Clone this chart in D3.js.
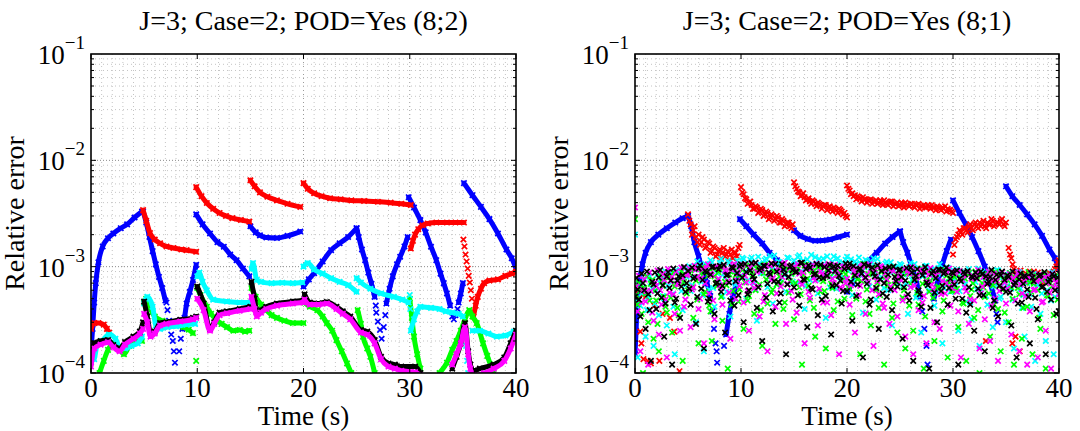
<!DOCTYPE html>
<html><head><meta charset="utf-8">
<script src="https://cdn.jsdelivr.net/npm/d3@7"></script>
<style>body{margin:0;background:#fff}</style>
</head><body><svg id="c" width="1080" height="431"></svg>
<script>
// ---------- DATA (time in s; values in units noted) ----------
const titles = ["J=3; Case=2; POD=Yes (8;2)", "J=3; Case=2; POD=Yes (8;1)"];
const xTicks = [0, 10, 20, 30, 40];
const yTicks = [1e-4, 1e-3, 1e-2, 1e-1];
const yTickExp = ["−4", "−3", "−2", "−1"];
const xLabel = "Time (s)", yLabel = "Relative error";

// LEFT panel, values x1e-4, [t, v]
const L_blue = [
 {line:[[0,1.6],[0.15,2.6],[0.3,4.6],[0.45,7],[0.7,11],[1.1,15.5],[1.6,18.5],[2.1,20.5],[2.8,23],[3.4,25],[4.1,29],[4.8,33]]},
 {line:[[4.9,33],[5.2,26],[5.5,19],[5.8,14],[6.1,10.5],[6.4,8],[6.7,6.3],[7.0,4.8]]},
 {pts:[[7.1,4.6],[7.2,3.9],[7.35,3.1],[7.55,2.3],[7.7,2.0],[7.8,1.6],[7.9,1.25],[8.3,1.6],[8.45,2.1]]},
 {line:[[8.6,2.6],[8.8,3.3],[9.0,4.5],[9.3,5.8],[9.6,7.5],[9.9,10.4]]},
 {line:[[9.9,31],[10.5,25],[11.2,20.5],[11.9,17],[12.5,15.4],[13.1,13],[13.7,11.5],[14.3,9.6],[14.9,8.1]]},
 {line:[[15,24],[15.5,21],[15.9,19.7],[16.5,18.8],[17.5,18.6],[18.5,19.5],[19.7,21.4]]},
 {line:[[20,6.5],[20.5,7.6],[21,8.7],[21.8,11.2],[22.6,14.3],[23.4,16.6],[24.2,19],[25,23]]},
 {line:[[25,23],[25.2,19],[25.5,14.5],[25.8,11.5],[26.1,8.8],[26.4,6.9],[26.7,5.2]]},
 {pts:[[26.8,4.3],[26.85,3.7],[27.0,3.04],[27.2,2.54],[27.35,2.1],[27.55,2.7],[27.7,3.5]]},
 {line:[[27.8,4.5],[28.1,6.2],[28.4,8.1],[28.8,10.5],[29.1,12.4],[29.5,15.5],[29.8,19]]},
 {line:[[29.9,45],[30.4,36],[31,27.4],[31.5,21],[32,15.4],[32.5,11.5],[32.9,8.6],[33.2,7],[33.5,5.6],[33.8,4.3]]},
 {pts:[[34.0,3.4],[34.15,3.2],[34.3,3.5],[34.5,4.0]]},
 {line:[[34.6,4.6],[34.8,5.6],[35,7]]},
 {line:[[35.1,61],[35.9,47],[36.7,36.5],[37.5,28],[38.3,20.5],[39.1,14.5],[39.6,12],[40,9.6]]}
];
const L_red = [
 {line:[[0,2.6],[0.3,2.95],[0.7,2.95],[1.2,2.85],[1.5,2.6],[1.7,2.4]]},
 {line:[[4.9,34],[5.2,27],[5.55,20.7],[6,18],[6.5,16.6],[7.1,15.5],[7.75,15],[8.5,14.5],[9,14.3],[9.9,13.8]]},
 {line:[[9.9,56],[10.4,46],[10.9,39.7],[11.5,35],[12.1,32],[12.7,30],[13.3,28.6],[14.1,27.5],[14.9,26.5]]},
 {line:[[15,65],[15.4,57],[15.9,50],[16.6,45.5],[17.5,42],[18.5,39],[19.7,36.5]]},
 {line:[[20,61],[20.4,54],[21,49],[21.7,46],[22.5,44],[23.5,43],[24.5,42],[25.7,41.5],[27,40.8],[28.2,40],[29.2,39],[30.1,38]]},
 {line:[[30.1,14.8],[30.3,17.5],[30.5,20],[30.8,22.5],[31.2,24.5],[31.7,25.5],[32.5,26],[33.5,26],[34.3,26],[35.1,26]]},
 {pts:[[35.05,18],[35.15,15.5],[35.25,13],[35.35,11.2],[35.45,9.6],[35.55,8.2],[35.65,7.1],[35.75,6],[35.85,5]]},
 {line:[[36,3.4],[36.2,4.3],[36.4,5.2],[36.7,6.2],[37,7],[37.5,7.4],[38.3,7.6],[39,8.2],[39.6,8.6],[40,9.0]]}
];
const L_cyan = [
 {line:[[0,1.3],[0.3,1.35],[0.6,1.9],[1.0,2.0],[1.7,2.3],[2.3,2.1],[2.7,1.75],[3.2,1.7],[3.8,1.8],[4.4,1.9],[4.8,2.2]]},
 {line:[[5,4.5],[5.3,5.2],[5.8,4.2],[6.1,2.8],[6.5,2.6],[7.2,2.7],[8,2.75],[9,2.85],[9.8,2.9]]},
 {line:[[10,8.1],[10.2,8.8],[10.5,7.2],[10.9,6.0],[11.5,4.9],[12.8,4.7],[14,4.6],[15,4.6]]},
 {line:[[15.1,9.5],[15.25,10.8],[15.6,7.5],[16,7.2],[17,7.0],[18,7.05],[19,7.0],[19.9,7.1]]},
 {line:[[20,10],[20.4,10.8],[21,9.4],[21.8,8.6],[22.6,7.8],[23.4,7.2],[24.2,6.7],[25,5.8]]},
 {line:[[25,7.8],[25.4,7.1],[26.3,6.2],[27.3,5.6],[28.5,5.2],[29.3,4.9],[29.9,4.6]]},
 {pts:[[30,5.4],[30.05,4.0]]},
 {line:[[30.1,2.5],[30.4,3.2],[30.7,3.8],[31,4.2],[32,4.1],[32.8,4.0],[33.4,3.8],[34,3.7],[34.6,3.6],[35,3.4]]},
 {pts:[[35.2,2.4],[35.3,1.8],[35.4,1.3],[35.5,1.0]]},
 {line:[[35.9,2.5],[36.6,2.5],[37.4,2.35],[38.2,2.2],[39,2.25],[39.8,2.45],[40,2.5]]}
];
const L_green = [
 {line:[[0.8,1.0],[1.2,1.3],[1.6,1.65],[2.2,1.9],[2.6,1.75],[3.1,1.5],[3.6,1.8],[4,2.0],[4.8,2.0]]},
 {line:[[5,4.6],[5.2,5.0],[5.5,4.2],[6,3.4],[6.7,3.1],[7.5,2.95],[8.1,2.85],[8.7,2.7],[9.2,2.55],[9.6,2.37]]},
 {pts:[[9.9,1.3]]},
 {line:[[10,6.3],[10.3,5.4],[10.9,4.2],[11.3,3.6],[11.8,3.17],[12.3,2.9],[12.8,2.7],[13.4,2.5],[14,2.54],[14.5,2.45],[14.9,2.5]]},
 {line:[[15.1,6.3],[15.5,5.2],[16,4.4],[16.5,3.9],[17,3.5],[17.5,3.3],[18.2,3.1],[19,2.95],[20,2.95]]},
 {line:[[20.1,4.6],[20.6,4.2],[21.3,3.9],[21.8,3.4],[22.2,2.95],[22.7,2.5],[23.1,2.04],[23.6,1.6],[24.1,1.23],[24.5,1.0]]},
 {line:[[25.1,3.9],[25.4,2.9],[25.6,2.2],[26,1.7],[26.3,1.42],[26.7,1.0]]},
 {line:[[30,5.0],[30.2,3.3],[30.4,2.2],[30.7,1.5],[31,1.1]]},
 {line:[[32.8,1.0],[33.5,1.25],[34,1.65],[34.4,2.0],[34.8,2.5],[35.2,3.2],[35.6,3.9],[35.9,3.4],[36.3,2.95],[36.9,1.9],[37.3,1.45],[37.6,1.2],[37.9,1.0]]}
];
const L_black = [
 {line:[[0,1.4],[0.3,1.9],[0.9,2.0],[1.6,2.04],[2.1,1.83],[2.7,1.7],[3.2,1.95],[4.0,2.2],[4.6,2.45],[4.9,3.0]]},
 {line:[[5,4.7],[5.3,3.4],[5.6,2.4],[6,2.45],[6.5,2.95],[7.1,3.0],[8.4,3.17],[9.6,3.3],[9.9,3.4]]},
 {line:[[10,6.5],[10.6,4.5],[11.2,2.6],[11.6,3.0],[12.1,3.7],[12.8,3.8],[14,4.0],[15,4.2]]},
 {line:[[15.1,7.2],[15.4,5.0],[15.6,3.7],[16,3.9],[16.5,4.2],[17.5,4.5],[19,4.7],[20,4.8]]},
 {line:[[20.1,5.5],[20.6,4.6],[21.4,4.5],[22.2,4.65],[23.1,4.2],[23.7,3.8],[24.4,3.4],[25.4,2.54],[26,2.45],[26.7,2.04],[27.3,1.42],[28,1.23],[28.6,1.2],[29.2,1.15],[30.5,1.15],[31,1.0]]},
 {line:[[34,1.1],[34.4,1.42],[34.8,1.9],[35.2,2.95],[35.5,1.6],[35.7,1.2],[36,1.05],[36.6,1.1],[37.9,1.2],[38.9,1.4],[39.5,1.9],[40,2.5]]}
];
const L_magenta = [
 {line:[[0,1.15],[0.3,1.7],[0.9,1.85],[1.6,1.95],[2.1,1.75],[2.7,1.6],[3.2,1.85],[4,2.1],[4.6,2.35],[4.9,2.6]]},
 {line:[[5,3.6],[5.3,3.0],[5.6,2.2],[6,2.35],[6.5,2.8],[7.1,2.9],[8.4,3.05],[9.6,3.2],[9.9,3.3]]},
 {line:[[10,5.0],[10.6,3.9],[11.2,2.5],[11.6,2.9],[12.1,3.5],[12.8,3.65],[14,3.85],[15,4.0]]},
 {line:[[15.1,5.2],[15.4,4.0],[15.6,3.4],[16,3.7],[16.5,4.0],[17.5,4.3],[19,4.5],[20,4.6]]},
 {line:[[20.1,4.9],[20.6,4.4],[21.4,4.4],[22.2,4.5],[23.1,4.0],[23.7,3.6],[24.4,3.2],[25.4,2.4],[26,2.3],[26.7,1.9],[27.3,1.35],[28,1.15],[28.6,1.1],[29.2,1.05],[30.5,1.02],[31,0.95]]},
 {line:[[34,1.2],[34.4,1.5],[34.8,1.9],[35.2,2.7],[35.5,1.5],[35.7,1.1],[36,0.95],[37,1.0],[37.9,1.1],[38.9,1.3],[39.5,1.7],[40,2.3]]}
];

// RIGHT panel
const R_blue = [ // x1e-4
 {line:[[0,1.5],[0.1,2.5],[0.2,4.5],[0.4,7],[0.7,10.5],[1,13.5],[1.5,17],[2.2,20],[3,23],[3.8,26],[4.5,28.5],[5,30]]},
 {line:[[5,30],[5.3,24],[5.6,17],[6,12.5],[6.4,9],[6.8,7],[7.1,5.3]]},
 {pts:[[7.3,3.8],[7.45,2.6],[7.6,1.9],[7.7,1.6],[7.75,1.25],[8.4,1.8]]},
 {line:[[8.6,2.3],[8.9,3.6],[9.2,5],[9.5,6.5],[9.8,8]]},
 {line:[[9.9,28],[10.5,24],[11.2,20],[12,16.5],[12.7,13.5],[13.4,11.5],[14,9.5]]},
 {line:[[15,22],[15.6,19.5],[16.3,18.2],[17,17.5],[17.7,17.6],[18.4,18],[19.2,19],[20,20]]},
 {line:[[20,5.8],[20.5,7],[21.2,9],[22,11.2],[22.8,13.5],[23.6,16.5],[24.3,19],[25,21.5]]},
 {line:[[25,21.5],[25.3,17],[25.7,13.5],[26.1,10],[26.5,7.5],[26.9,5.2]]},
 {pts:[[27.1,3.8],[27.3,2.6],[27.5,1.8],[27.6,1.2]]},
 {line:[[28.2,5],[28.6,7.5],[29,10.5],[29.4,14],[29.8,18]]},
 {line:[[30,42],[30.6,32],[31.2,25],[31.8,19],[32.4,14],[33,10],[33.5,7],[34,4.8]]},
 {pts:[[34.1,3.6],[34.2,3.0]]},
 {line:[[35,57],[35.6,46],[36.3,38],[37,31],[37.7,25],[38.4,19.5],[39.1,14.5],[39.6,12],[40,9.5]]}
];
const R_red_segments = [ // start time, step 0.25 s, values x1e-3
 {t0:5, v:[3.1,2.5,2.2,1.9,2.0,1.7,1.8,1.55,1.65,1.4,1.5,1.3,1.45,1.35,1.25,1.4,1.3,1.2,1.35,1.5]},
 {t0:10, v:[5.6,4.8,4.3,4.0,3.8,3.5,3.6,3.3,3.4,3.1,3.2,2.9,3.0,2.8,2.9,2.6,2.7,2.5,2.6,2.3]},
 {t0:15, v:[6.2,5.4,5.0,4.7,4.5,4.3,4.1,4.2,3.9,4.0,3.8,3.7,3.8,3.6,3.5,3.6,3.4,3.5,3.3,3.2,2.9]},
 {t0:20, v:[5.8,5.2,4.9,4.7,4.6,4.4,4.5,4.3,4.2,4.3,4.1,4.2,4.0,4.1,4.2,3.9,4.0,4.1,3.9,4.0,3.8,3.9,4.0,3.8,3.9,3.7,3.8,3.9,3.7,3.8,3.6,3.7,3.8,3.6,3.7,3.5,3.6,3.7,3.5,3.4,3.2]},
 {t0:30, v:[1.3,1.8,2.0,2.1,2.3,2.2,2.4,2.3,2.5,2.4,2.6,2.5,2.4,2.6,2.5,2.7,2.5,2.6,2.7,2.5,2.6]},
 {t0:35.25, v:[1.5,1.2,0.95,0.85,0.9,0.8,0.85,0.78,0.9,0.82,0.75,0.88,0.8,0.72,0.85,0.78,0.8,0.9,1.0,1.15]}
];
const R_red_segments2 = [ // second sample row, start time, step 0.25 s, values x1e-3
 {t0:5.125, v:[2.7,2.0,2.4,1.7,1.6,1.9,1.5,1.7,1.35,1.55,1.25,1.4,1.2,1.5,1.3,1.15,1.45,1.35,1.25,1.6]},
 {t0:10.125, v:[5.0,4.4,3.9,4.1,3.5,3.7,3.2,3.5,3.0,3.3,2.8,3.1,2.7,3.0,2.6,2.8,2.4,2.6,2.4,2.5]},
 {t0:15.125, v:[5.7,5.1,4.6,4.9,4.2,4.4,3.9,4.1,3.7,3.9,3.5,3.8,3.4,3.7,3.3,3.5,3.2,3.4,3.1,3.0]},
 {t0:20.125, v:[5.4,4.8,4.6,4.3,4.5,4.1,4.3,4.0,4.2,3.9,4.1,3.9,4.2,3.8,4.0,3.8,4.1,3.7,3.9,3.7,4.0,3.6,3.8,3.7,3.9,3.6,3.8,3.5,3.7,3.6,3.8,3.5,3.6,3.4,3.6,3.4,3.5,3.3,3.4,3.3]},
 {t0:30.125, v:[1.6,1.9,2.2,2.0,2.3,2.1,2.5,2.2,2.6,2.3,2.4,2.7,2.3,2.5,2.8,2.4,2.6,2.5,2.8,2.4]},
 {t0:35.375, v:[1.3,1.05,0.9,0.8,0.92,0.76,0.86,0.8,0.74,0.9,0.78,0.83,0.7,0.82,0.76,0.86,0.82,0.95,1.1]}
];
const R_red_low = [[0,5.6],[0.25,4.6],[0.4,6.2],[0.5,2.45],[0.6,1.9],[0.7,5.4],[0.8,1.35],[1.0,5.2],[1.2,1.3],[1.5,1.23],[1.8,4.3],[2.3,1.3],[2.6,3.6],[3.3,3.3],[3.7,2.45],[4.2,1.04],[33.1,2.0],[35.6,1.9],[35.9,2.2],[36.3,1.6]]; // x1e-4
const cloudStep = 0.25; // s, cloud values below x1e-4
const R_black = [5.2,6.1,3.4,7.0,2.6,5.5,1.3,6.8,4.0,7.9,5.1,2.2,8.1,6.3,1.2,4.6,7.4,3.3,8.3,5.8,
 9.1,4.4,7.7,2.9,9.6,6.2,1.7,8.8,5.0,9.9,3.6,7.1,10.2,6.6,2.4,8.4,4.8,9.7,7.3,5.4,
 10.5,3.0,8.9,6.0,10.8,7.6,4.1,9.3,2.0,10.1,6.9,8.5,3.8,10.6,7.2,5.6,9.4,1.5,8.0,10.3,
 6.4,9.0,4.3,10.9,7.5,2.7,9.8,6.1,8.6,3.5,10.4,7.8,5.3,9.2,2.3,10.0,6.7,8.2,4.5,9.5,
 5.9,10.7,3.1,8.3,6.8,9.6,1.4,7.9,10.2,4.9,8.7,6.3,2.6,9.1,7.0,5.2,9.9,3.9,8.0,6.5,
 9.4,2.1,7.4,5.5,9.8,1.3,8.2,6.0,4.2,9.0,7.1,1.1,8.6,5.7,3.0,9.3,6.6,8.9,4.4,7.7,
 8.7,5.0,1.2,7.3,8.9,3.7,6.4,8.1,2.5,7.8,5.4,8.5,1.6,6.9,8.0,4.1,7.5,3.4,8.3,6.2,
 5.8,8.0,2.8,6.7,1.4,7.6,4.6,8.2,6.1,1.9,7.9,5.1,3.2,8.4,6.5,1.5,7.2,4.9,8.1,3.6,3.8];
const R_black2 = [7.8,4.9,8.6,6.0,9.0,3.9,7.2,8.8,5.6,9.3,6.7,4.5,8.9,7.4,9.6,5.0,8.1,6.5,9.9,7.0,
 6.2,9.8,8.0,5.2,10.3,7.5,9.1,4.7,8.4,10.0,6.9,9.4,5.8,10.4,8.3,7.1,9.9,4.3,8.7,10.1,
 7.9,10.6,5.5,9.2,8.1,10.9,6.4,9.7,10.2,5.1,8.8,10.7,7.3,9.0,4.6,10.5,8.5,6.8,10.0,9.3,
 8.9,5.4,10.8,7.6,9.5,10.3,6.3,8.4,10.6,7.9,4.9,9.9,8.2,10.4,6.6,9.1,10.2,7.4,5.9,10.7,
 9.7,7.2,10.1,5.3,9.4,8.6,10.5,6.9,4.4,9.8,8.1,10.3,7.6,5.6,9.6,8.4,6.1,10.0,7.3,9.2,
 8.0,6.4,9.7,4.8,8.8,7.5,9.5,5.5,8.3,9.9,6.7,4.1,9.1,7.8,9.4,5.9,8.6,9.8,6.3,8.9,
 6.8,9.2,7.7,5.0,8.5,9.1,4.4,7.9,8.8,6.2,9.0,5.4,8.1,7.2,9.3,4.8,8.4,6.6,9.0,7.5,
 8.3,5.7,9.0,7.1,4.5,8.6,6.9,8.0,5.2,8.7,7.3,4.0,8.2,6.4,8.9,5.8,7.6,8.5,6.0,7.9,8.4];
const R_green = [28,4.4,6.2,1.0,5.6,3.0,6.9,2.1,4.8,1.6,7.3,5.2,3.7,8.0,2.4,6.5,4.1,7.7,1.3,8.4,
 6.0,9.2,3.3,7.4,1.9,8.7,5.5,9.5,4.3,2.0,8.1,6.6,9.8,3.1,7.2,1.1,9.0,5.9,8.3,4.7,
 7.9,2.6,10.1,5.3,8.8,3.6,9.6,6.8,1.8,10.4,4.5,8.2,6.1,2.9,9.7,7.0,4.0,10.0,5.7,8.6,
 3.2,9.3,6.4,1.2,10.2,7.7,4.8,8.9,2.2,9.9,5.8,7.3,1.7,10.5,6.9,3.9,8.4,0.9,9.4,5.0,
 10.1,6.2,3.5,9.0,7.6,1.5,10.6,4.7,8.5,2.8,9.7,6.0,4.1,8.9,1.2,7.4,9.5,3.3,6.8,2.4,
 8.8,5.1,1.7,9.2,6.9,2.5,8.1,4.4,9.6,1.1,7.5,5.8,8.7,2.0,6.3,9.0,3.8,7.1,1.4,8.3,
 5.9,8.6,2.7,7.8,4.5,1.3,8.8,6.1,3.3,8.2,1.0,7.0,5.2,8.5,2.2,6.7,8.9,4.0,1.6,7.6,
 8.1,3.0,6.4,1.2,7.9,5.5,2.1,8.3,4.2,7.1,1.5,8.0,6.0,2.6,7.4,1.1,5.3,8.2,3.5,7.7,6.8];
const R_green2 = [5.4,7.0,3.6,6.3,8.1,4.8,7.5,5.9,2.9,8.4,6.6,4.2,7.9,5.1,8.8,6.9,3.5,9.0,7.2,5.6,
 8.7,6.4,9.5,4.9,7.8,9.9,5.8,8.2,3.8,9.6,7.0,8.9,5.2,10.0,6.7,8.5,4.4,9.7,7.4,6.1,
 9.3,7.1,4.8,10.2,8.4,6.0,9.8,3.9,8.7,7.6,10.3,5.7,9.0,6.8,8.1,10.0,4.6,9.5,7.3,8.9,
 7.0,9.6,5.5,8.3,10.4,6.6,9.2,4.1,8.6,10.1,7.7,5.9,9.4,8.0,6.3,10.2,4.7,9.0,7.5,8.5,
 6.4,9.9,8.2,5.0,9.1,7.3,10.0,6.1,3.6,8.8,9.6,7.0,5.4,9.3,8.1,6.7,9.8,4.5,8.4,7.6,
 9.2,6.0,8.6,4.3,9.4,7.8,5.7,8.9,6.9,3.4,9.0,7.4,5.1,8.7,6.5,9.3,4.8,8.2,7.1,5.9,
 8.0,6.2,9.1,4.6,7.7,8.5,5.3,7.0,9.0,3.9,8.3,6.4,7.9,5.6,8.8,4.4,7.2,8.6,6.1,3.7,
 7.5,8.7,5.0,7.8,6.3,8.4,4.1,7.1,8.9,5.8,6.9,8.2,3.3,7.6,8.5,5.4,7.0,6.6,8.1,4.9,7.4];
const R_magenta = [36,3.8,1.6,6.0,4.7,1.2,5.9,3.1,6.6,2.3,4.4,7.5,1.4,5.7,8.0,3.6,6.9,2.5,7.8,4.9,
 8.5,2.7,6.4,9.4,4.0,7.8,1.9,9.7,5.6,8.3,3.2,10.0,6.7,4.4,9.2,7.3,2.1,10.3,5.0,8.7,
 9.9,4.6,7.1,2.5,10.7,6.3,8.9,3.4,9.6,5.4,1.6,10.2,7.8,4.2,9.1,6.5,10.6,2.9,8.0,5.9,
 10.0,3.7,8.6,6.8,1.9,9.7,5.1,10.4,7.4,2.8,9.0,4.6,8.2,10.6,3.5,7.0,9.3,1.5,6.2,10.1,
 7.7,4.4,9.8,2.4,8.4,6.6,10.3,3.6,7.2,9.5,1.8,8.0,5.5,9.9,4.1,7.6,2.9,9.3,6.0,3.4,
 8.6,4.8,2.2,9.1,6.4,1.5,7.9,3.9,9.4,5.3,1.9,8.4,6.8,3.0,9.0,2.6,7.3,5.6,8.8,4.3,
 7.0,9.0,3.8,1.4,8.3,5.9,2.9,7.7,4.8,8.6,1.7,6.5,3.2,8.0,2.0,7.4,5.0,1.3,8.4,6.3,
 4.5,7.8,2.3,6.9,8.2,1.6,5.6,7.3,1.2,3.8,8.0,6.1,1.4,7.5,4.7,2.5,8.3,1.1,6.4,7.1,5.5];
const R_magenta2 = [6.5,8.2,4.6,7.6,5.9,8.8,3.7,7.1,9.2,6.0,8.5,4.9,9.5,7.3,5.5,9.0,6.8,9.8,4.2,8.3,
 9.6,6.1,10.2,8.0,5.0,9.4,7.0,10.5,8.6,4.8,9.9,7.7,6.3,10.1,8.9,5.7,9.3,10.6,7.4,6.6,
 10.4,8.2,5.9,9.8,7.1,10.8,6.5,9.1,4.7,10.2,8.7,7.5,10.6,5.6,9.4,8.0,10.9,6.9,9.7,4.9,
 9.0,10.5,7.2,8.8,10.1,5.8,9.6,7.9,10.7,6.2,8.5,10.3,4.6,9.2,7.7,10.4,8.3,6.4,9.9,7.0,
 10.2,6.7,8.9,9.7,5.4,10.0,7.8,8.4,10.5,6.0,9.3,7.3,10.1,4.5,8.7,9.6,6.5,9.1,7.6,8.2,
 7.4,9.5,5.2,8.6,9.9,6.6,8.0,9.2,4.6,8.8,7.2,9.7,6.1,8.3,9.4,5.5,8.9,7.0,9.6,6.3,
 8.7,5.8,9.1,7.5,6.4,8.9,4.9,8.2,7.8,9.3,5.6,8.0,6.9,9.0,4.3,8.6,7.4,5.9,8.8,7.1,
 6.2,8.5,7.7,4.8,8.9,6.8,8.1,5.3,7.9,8.7,6.0,7.3,8.4,4.6,8.0,7.0,5.7,8.6,7.6,6.4,7.2];
const R_cyan = [20,1.4,4.3,6.4,2.2,5.2,7.1,1.8,6.0,3.5,7.6,4.6,2.8,8.2,5.5,1.5,7.3,8.6,3.9,6.7,
 9.3,5.9,8.0,3.0,10.4,7.2,1.6,9.8,6.1,11.0,4.2,8.7,10.8,5.3,7.9,11.3,3.4,9.1,6.8,10.5,
 8.2,11.8,5.0,9.6,12.2,7.0,3.1,10.7,8.8,11.5,6.4,12.6,4.5,9.4,11.1,7.6,10.2,5.8,12.0,8.5,
 11.4,6.9,12.8,9.0,4.0,11.7,7.5,10.6,12.3,5.6,9.8,11.9,3.3,10.3,8.1,12.5,6.2,11.0,9.3,7.8,
 12.4,9.5,5.4,11.2,8.4,10.8,3.7,11.6,7.1,9.9,12.0,4.9,10.4,8.0,6.3,11.1,9.2,2.8,10.0,7.4,
 10.6,6.5,9.0,3.6,10.9,7.7,5.1,9.6,2.4,8.3,10.2,6.0,9.4,4.3,8.7,10.5,1.9,7.2,9.8,5.8,
 9.3,6.6,2.5,8.9,7.4,4.7,9.5,3.2,8.0,6.1,1.8,9.0,7.3,4.4,8.6,2.7,6.8,9.2,5.2,7.9,
 3.0,8.4,6.2,1.7,7.6,8.9,4.1,2.2,7.0,5.5,8.3,1.3,6.7,3.6,8.0,2.0,7.4,4.8,1.5,8.2,6.0];
const R_cyan2 = [4.8,6.9,5.6,7.7,3.9,8.1,6.2,4.5,8.4,7.0,5.3,9.0,6.6,8.8,4.2,9.3,7.4,5.9,9.6,8.0,
 10.1,6.7,9.4,11.2,7.8,5.4,10.6,8.9,11.5,6.3,9.9,7.5,11.8,8.6,5.8,10.9,9.7,7.1,11.4,10.0,
 12.1,9.0,7.4,11.6,10.3,6.1,12.4,8.7,10.8,11.9,7.9,9.5,12.7,6.8,11.0,10.5,8.3,12.2,9.8,7.2,
 10.7,12.3,8.8,11.4,6.6,10.1,12.9,9.2,7.6,11.8,10.4,8.5,12.5,6.4,11.1,9.6,12.0,7.9,10.8,11.6,
 9.1,11.7,7.3,10.6,12.2,8.2,9.9,11.3,6.5,10.9,8.6,11.8,7.7,9.4,10.7,6.0,11.0,8.9,9.8,7.0,
 10.3,8.4,6.8,9.9,7.5,10.6,5.4,9.0,8.1,10.1,6.7,9.5,7.9,5.8,9.7,8.5,6.3,9.2,7.1,8.8,
 7.6,9.4,5.9,8.6,6.8,9.1,4.6,8.3,7.2,9.6,6.1,8.0,5.3,8.9,7.4,6.5,9.3,5.0,8.2,7.0,
 6.6,8.7,4.9,7.5,8.8,6.2,5.4,8.1,7.3,4.2,8.5,6.9,7.8,5.6,8.4,6.0,7.7,8.9,5.2,7.1,6.7];

// ---------- FONT (pick an installed Times-like serif) ----------
function pickFont(cands){
  const ctx = document.createElement("canvas").getContext("2d");
  const s = "J=3; Case=2; POD=Yes Relative error 0123456789 mmmwwwiii";
  const w = f => { ctx.font = "40px " + f; return ctx.measureText(s).width; };
  const wm = w("monospace"), ws = w("sans-serif");
  for (const c of cands) {
    const q = "'" + c + "'";
    if (w(q + ", monospace") !== wm && w(q + ", sans-serif") !== ws) return q;
  }
  return "serif";
}
const FONT = pickFont(["Liberation Serif","Times New Roman","Tinos","DejaVu Serif","Nimbus Roman","Noto Serif","FreeSerif"]);

// ---------- DRAWING ----------
const C = {blue:"#0000ff", red:"#ff0000", cyan:"#00ffff", green:"#00ff00", black:"#000000", magenta:"#ff00ff"};
const E4 = 1e-4, E3 = 1e-3;
const scaleSegs = (segs, u) => segs.map(s => s.line ? {line:s.line.map(([t,v])=>[t,v*u])} : {pts:s.pts.map(([t,v])=>[t,v*u])});
const gridSeg = (arr, off) => ({pts: arr.map((v,i)=>[i*cloudStep+off, v*E4])});
const redSeg = s => ({pts:s.v.map((v,i)=>[s.t0+i*0.25, v*E3])});

const leftLayers = [
  {c:C.blue, segs:scaleSegs(L_blue,E4)},
  {c:C.red, segs:scaleSegs(L_red,E4)},
  {c:C.green, segs:scaleSegs(L_green,E4)},
  {c:C.cyan, segs:scaleSegs(L_cyan,E4)},
  {c:C.black, segs:scaleSegs(L_black,E4)},
  {c:C.magenta, segs:scaleSegs(L_magenta,E4)}
];
const rightLayers = [
  {c:C.blue, segs:scaleSegs(R_blue,E4)},
  {c:C.red, segs:R_red_segments.map(redSeg).concat(R_red_segments2.map(redSeg)).concat([{pts:R_red_low.map(([t,v])=>[t,v*E4])}])},
  {c:C.cyan, segs:[gridSeg(R_cyan,0), gridSeg(R_cyan2,0.125)]},
  {c:C.green, segs:[gridSeg(R_green,0), gridSeg(R_green2,0.125)]},
  {c:C.magenta, segs:[gridSeg(R_magenta,0), gridSeg(R_magenta2,0.125)]},
  {c:C.black, segs:[gridSeg(R_black,0), gridSeg(R_black2,0.125)]}
];

const svg = d3.select("#c").style("font-family", FONT);
const yTop = 54, yBot = 373;
const panels = [
  {x0:91, x1:516, title:titles[0], layers:leftLayers, id:"L"},
  {x0:635, x1:1059, title:titles[1], layers:rightLayers, id:"R"}
];
const xMarker = "M-2.7,-2.7L2.7,2.7M-2.7,2.7L2.7,-2.7";

panels.forEach(p => {
  const x = d3.scaleLinear().domain([0,40]).range([p.x0,p.x1]);
  const y = d3.scaleLog().domain([1e-4,1e-1]).range([yBot,yTop]);
  const g = svg.append("g");
  svg.append("clipPath").attr("id","clip"+p.id).append("rect")
    .attr("x",p.x0).attr("y",yTop).attr("width",p.x1-p.x0).attr("height",yBot-yTop);
  // grid
  const grid = g.append("g");
  d3.range(1,40).forEach(t => {
    grid.append("line").attr("x1",x(t)).attr("x2",x(t)).attr("y1",yTop).attr("y2",yBot)
      .attr("stroke",t%10===0?"#9a9a9a":"#c4c4c4").attr("stroke-width",1).attr("stroke-dasharray","1,3");
  });
  [-4,-3,-2].forEach(k => {
    for (let m=1;m<=9;m++){
      const v = m*Math.pow(10,k);
      if (v<=1e-4) continue;
      grid.append("line").attr("x1",p.x0).attr("x2",p.x1).attr("y1",y(v)).attr("y2",y(v))
        .attr("stroke",m===1?"#8a8a8a":"#c4c4c4").attr("stroke-width",1).attr("stroke-dasharray",m===1?"1,2":"1,3");
    }
  });
  // data
  const dg = g.append("g").attr("clip-path","url(#clip"+p.id+")");
  const line = d3.line().x(d=>x(d[0])).y(d=>y(d[1])).curve(d3.curveMonotoneX);
  p.layers.forEach(L => {
    L.segs.forEach(s => {
      if (s.line) {
        dg.append("path").attr("d",line(s.line)).attr("fill","none").attr("stroke",L.c)
          .attr("stroke-width",5).attr("stroke-linejoin","round").attr("stroke-linecap","round");
      }
      const pts = s.line || s.pts;
      dg.selectAll(null).data(pts.filter(d=>d[1]>0)).join("path")
        .attr("d",xMarker).attr("transform",d=>`translate(${x(d[0])},${y(d[1])})`)
        .attr("fill","none").attr("stroke",L.c).attr("stroke-width",1.7);
    });
  });
  // box
  g.append("rect").attr("x",p.x0).attr("y",yTop).attr("width",p.x1-p.x0).attr("height",yBot-yTop)
    .attr("fill","none").attr("stroke","#000").attr("stroke-width",1.6);
  // ticks
  const tk = g.append("g").attr("stroke","#000").attr("stroke-width",1);
  xTicks.forEach(t => {
    tk.append("line").attr("x1",x(t)).attr("x2",x(t)).attr("y1",yBot).attr("y2",yBot-5);
    tk.append("line").attr("x1",x(t)).attr("x2",x(t)).attr("y1",yTop).attr("y2",yTop+5);
  });
  [-4,-3,-2].forEach(k => {
    for (let m=1;m<=9;m++){
      const v = m*Math.pow(10,k), len = m===1?5:3;
      tk.append("line").attr("x1",p.x0).attr("x2",p.x0+len).attr("y1",y(v)).attr("y2",y(v));
      tk.append("line").attr("x1",p.x1).attr("x2",p.x1-len).attr("y1",y(v)).attr("y2",y(v));
    }
  });
  // tick labels
  xTicks.forEach(t => {
    g.append("text").attr("x",x(t)).attr("y",397).attr("text-anchor","middle").attr("font-size",27).text(t);
  });
  yTicks.forEach((v,i) => {
    const tx = g.append("text").attr("x",p.x0-6).attr("y",y(v)+10).attr("text-anchor","end").attr("font-size",27);
    tx.append("tspan").text("10");
    tx.append("tspan").attr("font-size",19).attr("dy",-15).text(yTickExp[i]);
  });
  // labels
  g.append("text").attr("x",(p.x0+p.x1)/2).attr("y",30).attr("text-anchor","middle").attr("font-size",28).text(p.title);
  g.append("text").attr("x",(p.x0+p.x1)/2).attr("y",425).attr("text-anchor","middle").attr("font-size",27).text(xLabel);
  g.append("text").attr("transform",`translate(${p.x0-67},${(yTop+yBot)/2}) rotate(-90)`)
    .attr("text-anchor","middle").attr("font-size",28).text(yLabel);
});
</script></body></html>
